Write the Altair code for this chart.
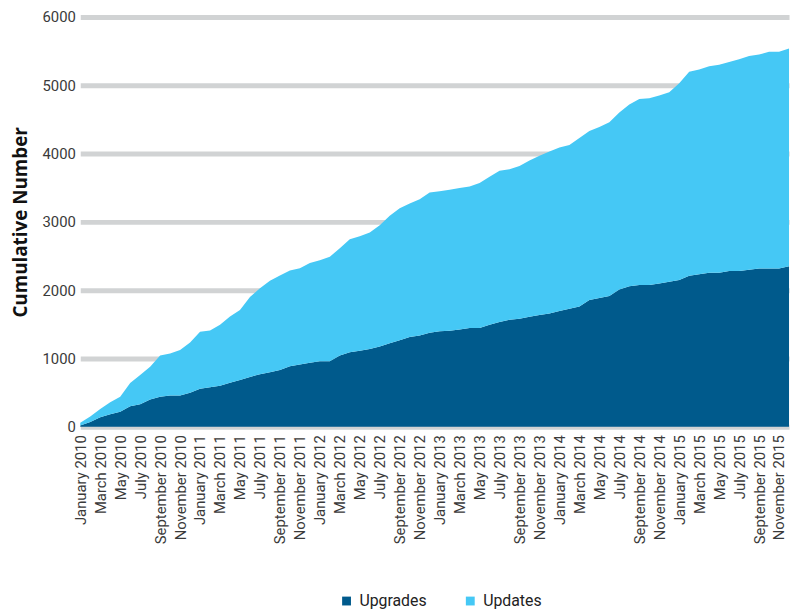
import altair as alt
import pandas as pd

years = [2010, 2011, 2012, 2013, 2014, 2015]
month_names = ["January", "February", "March", "April", "May", "June", "July",
               "August", "September", "October", "November", "December"]
months = [f"{m} {y}" for y in years for m in month_names]

upgrades = [
    20, 70, 140, 185, 220, 300, 330, 400, 440, 460, 460, 500,
    557, 580, 600, 645, 685, 730, 770, 800, 830, 886, 914, 938,
    960, 960, 1043, 1090, 1114, 1140, 1176, 1224, 1267, 1314, 1338, 1376,
    1400, 1405, 1424, 1448, 1448, 1495, 1533, 1567, 1581, 1610, 1638, 1660,
    1695, 1730, 1760, 1855, 1886, 1914, 2010, 2057, 2076, 2076, 2100, 2124,
    2148, 2210, 2233, 2257, 2257, 2280, 2280, 2300, 2319, 2319, 2319, 2350,
]
updates = [
    40, 80, 120, 175, 220, 340, 430, 480, 605, 615, 665, 735,
    833, 830, 895, 970, 1025, 1170, 1260, 1340, 1385, 1404, 1406, 1462,
    1480, 1530, 1572, 1655, 1676, 1705, 1774, 1866, 1933, 1956, 1992, 2054,
    2050, 2065, 2071, 2072, 2122, 2165, 2217, 2203, 2239, 2290, 2332, 2370,
    2395, 2395, 2470, 2475, 2504, 2546, 2590, 2663, 2724, 2734, 2750, 2776,
    2882, 2990, 2997, 3023, 3043, 3060, 3100, 3130, 3131, 3171, 3171, 3190,
]

series_names = ["Upgrades", "Updates"]
colors = ["#005a8c", "#45c8f5"]
y_ticks = [0, 1000, 2000, 3000, 4000, 5000, 6000]

rows = []
for i, m in enumerate(months):
    rows.append({"month": m, "series": "Upgrades", "value": upgrades[i], "ord": 0})
    rows.append({"month": m, "series": "Updates", "value": updates[i], "ord": 1})
df = pd.DataFrame(rows)

FONT = "Roboto"

chart = alt.Chart(df).mark_area(interpolate="linear").encode(
    x=alt.X(
        "month:O",
        sort=months,
        scale=alt.Scale(type="point", padding=0),
        axis=alt.Axis(
            values=months[::2], labelAngle=-90, title=None, grid=False,
            ticks=False, domain=False, labelPadding=8, labelFontSize=15,
            labelColor="#3a3a3a", labelFont=FONT, labelOverlap=False,
        ),
    ),
    y=alt.Y(
        "value:Q",
        stack="zero",
        scale=alt.Scale(domain=[0, 6000], nice=False),
        axis=alt.Axis(
            values=y_ticks, format="d", title="Cumulative Number", grid=True,
            gridColor="#d1d3d4", gridWidth=5, ticks=False, domain=False,
            labelPadding=5, labelFontSize=15, labelColor="#3a3a3a", labelFont=FONT,
            titleFont="Open Sans", titleFontSize=19, titleFontWeight="bold",
            titleColor="#111111", titlePadding=12,
        ),
    ),
    color=alt.Color(
        "series:N",
        scale=alt.Scale(domain=series_names, range=colors),
        legend=alt.Legend(
            title=None, orient="none", direction="horizontal",
            legendX=261, legendY=582,
            symbolType="square", symbolSize=80, symbolStrokeWidth=0,
            labelFontSize=16, labelFont=FONT, labelColor="#222222",
            columnPadding=36, labelOffset=5,
        ),
    ),
    order=alt.Order("ord:Q"),
).properties(
    width=716, height=414,
    autosize=alt.AutoSizeParams(type="none"),
    padding={"left": 73, "top": 6, "right": 3, "bottom": 185},
).configure_view(stroke=None)

chart.save("out.html", embed_options={"renderer": "svg", "actions": False})
